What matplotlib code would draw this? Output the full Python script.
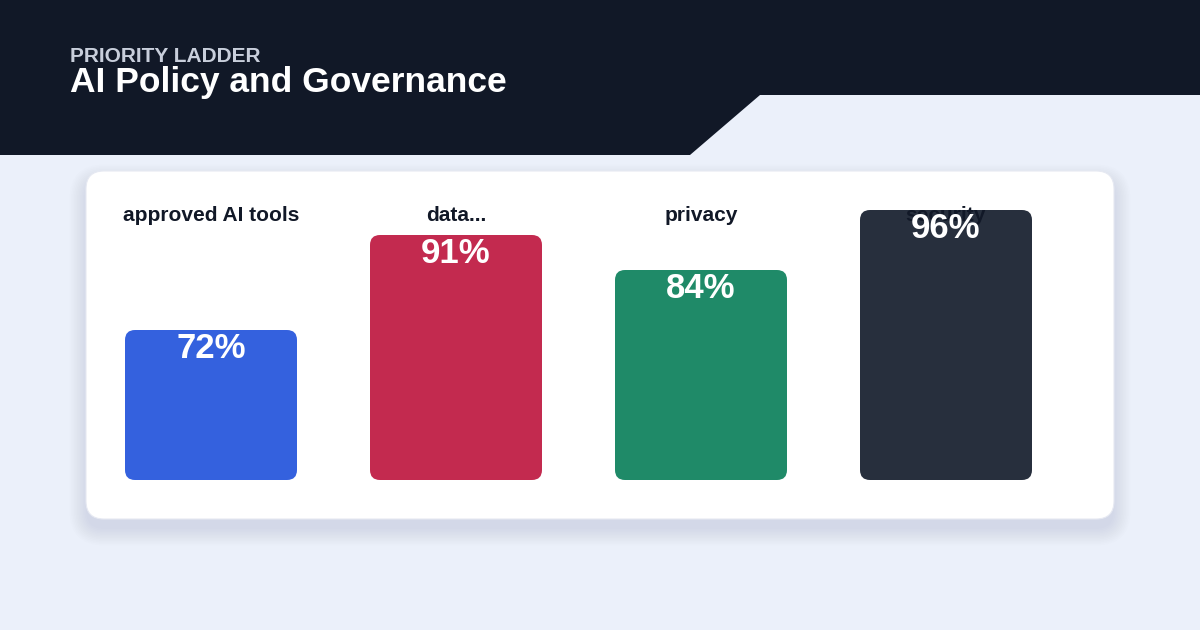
import matplotlib
matplotlib.use("Agg")
import matplotlib.pyplot as plt
from matplotlib.patches import FancyBboxPatch, Polygon
import matplotlib.transforms as mtransforms

plt.rcParams['font.family'] = ['Liberation Sans', 'DejaVu Sans']

# data
categories = ["approved AI tools", "data...", "privacy", "security"]
values = [72, 91, 84, 96]
value_labels = ["72%", "91%", "84%", "96%"]
bar_colors = ["#3461de", "#c32a4f", "#1f8a68", "#272f3d"]

eyebrow = "PRIORITY LADDER"
title = "AI Policy and Governance"

W, H = 1200, 630
fig = plt.figure(figsize=(W / 100, H / 100), dpi=100)
fig.patch.set_facecolor("#ebf0fa")

# background / decoration layer in pixel coords
bg = fig.add_axes([0, 0, 1, 1])
bg.set_xlim(0, W)
bg.set_ylim(H, 0)
bg.axis("off")

# dark header with slanted cut
bg.add_patch(Polygon([(0, 0), (W, 0), (W, 95), (760, 95), (690, 155), (0, 155)],
                     closed=True, facecolor="#111827", edgecolor="none"))

bg.text(70, 62, eyebrow, color="#c8cedb", fontsize=15, fontweight="bold",
        va="baseline", ha="left")
bg.text(70, 92, title, color="white", fontsize=25.5, fontweight="bold",
        va="baseline", ha="left")

# card shadow
for k in range(12):
    g = k * 1.5
    bg.add_patch(FancyBboxPatch((86 - g, 171 - g + 10), 1028 + 2 * g, 348 + 2 * g,
                                boxstyle="round,pad=0,rounding_size=%g" % (18 + g),
                                facecolor="#3a4670", edgecolor="none", alpha=0.008))
# card
bg.add_patch(FancyBboxPatch((86, 171), 1028, 348,
                            boxstyle="round,pad=0,rounding_size=18",
                            facecolor="white", edgecolor="#e6e9f2", linewidth=0.8))

# chart axes
spacing = 245
x0 = 211 - spacing / 2
ax_w = spacing * 4
y_bot, y_top = 480, 180
ax = fig.add_axes([x0 / W, 1 - y_bot / H, ax_w / W, (y_bot - y_top) / H])
ax.set_facecolor("none")
ax.axis("off")

slope = 5.0
v0 = 42
ax.set_xlim(-0.5, 3.5)
ax.set_ylim(v0, v0 + (y_bot - y_top) / slope)

bar_w = 172 / spacing
x_per_px = 1 / spacing
y_per_px = 1 / slope
radius = 10 * x_per_px
aspect = y_per_px / x_per_px

label_tr = mtransforms.blended_transform_factory(ax.transData, ax.transAxes)

for i, (cat, val, lab, col) in enumerate(zip(categories, values, value_labels, bar_colors)):
    ax.add_patch(FancyBboxPatch((i - bar_w / 2, v0), bar_w, val - v0,
                                boxstyle="round,pad=0,rounding_size=%g" % radius,
                                mutation_aspect=aspect,
                                facecolor=col, edgecolor="none", zorder=2))
    ax.text(i, (y_bot - 221) / (y_bot - y_top), cat, transform=label_tr,
            ha="center", va="baseline", fontsize=15, fontweight="bold",
            color="#111827", zorder=3)
    ax.annotate(lab, (i, val), xytext=(0, -13), textcoords="offset points",
                ha="center", va="center", fontsize=25, fontweight="bold",
                color="white", zorder=4)

fig.savefig("out.png", dpi=100, facecolor=fig.get_facecolor())
